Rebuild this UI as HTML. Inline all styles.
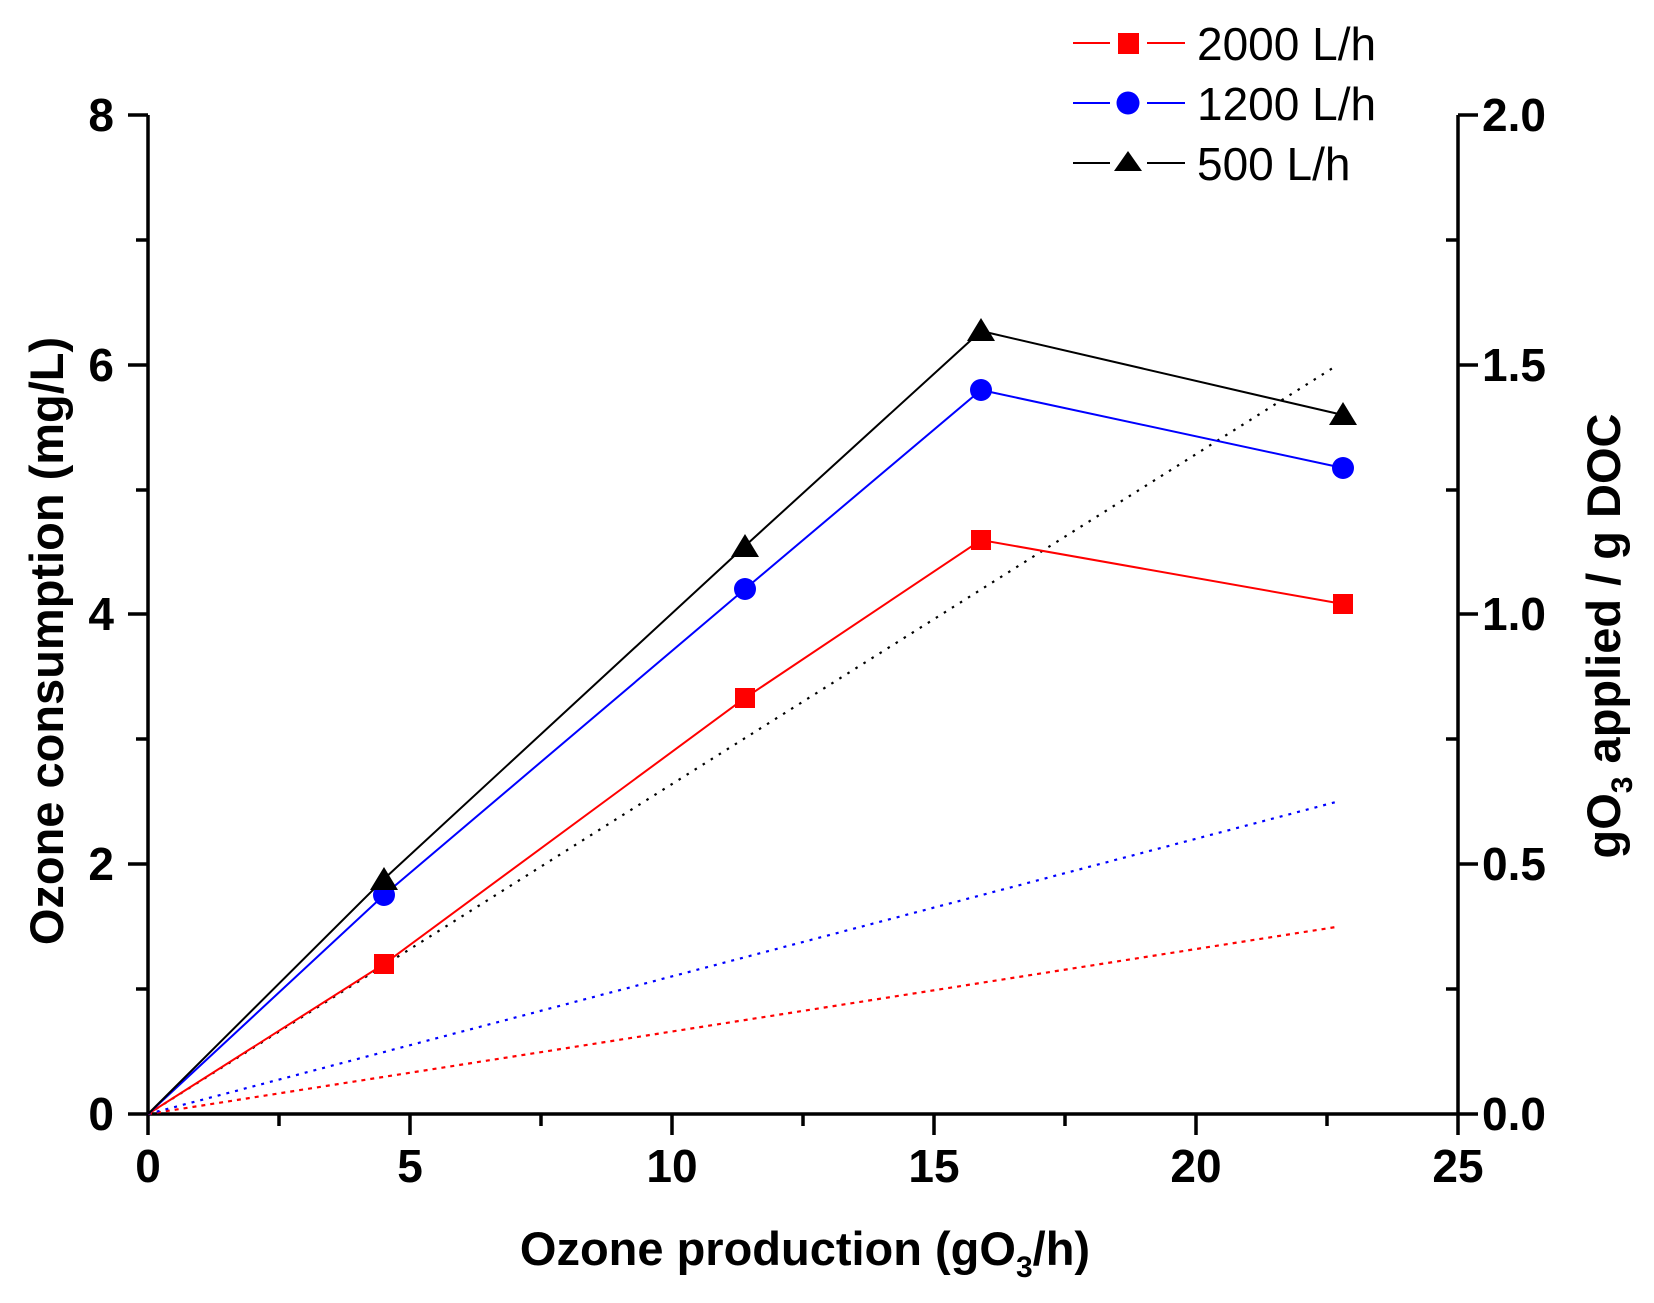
<!DOCTYPE html>
<html><head><meta charset="utf-8"><style>html,body{margin:0;padding:0;background:#fff}svg{display:block}</style></head>
<body>
<svg width="1654" height="1303" viewBox="0 0 1654 1303" xmlns="http://www.w3.org/2000/svg" font-family="'Liberation Sans', Arial, sans-serif">
<g stroke="#000" stroke-width="3.5" fill="none">
<line x1="148" y1="115" x2="148" y2="1114"/>
<line x1="1458" y1="115" x2="1458" y2="1114"/>
<line x1="128" y1="1114" x2="1458" y2="1114"/>
<line x1="128" y1="115" x2="148" y2="115"/>
<line x1="128" y1="365" x2="148" y2="365"/>
<line x1="128" y1="614" x2="148" y2="614"/>
<line x1="128" y1="864" x2="148" y2="864"/>
<line x1="136" y1="240" x2="148" y2="240"/>
<line x1="136" y1="490" x2="148" y2="490"/>
<line x1="136" y1="739" x2="148" y2="739"/>
<line x1="136" y1="989" x2="148" y2="989"/>
<line x1="1458" y1="115" x2="1478" y2="115"/>
<line x1="1458" y1="365" x2="1478" y2="365"/>
<line x1="1458" y1="614" x2="1478" y2="614"/>
<line x1="1458" y1="864" x2="1478" y2="864"/>
<line x1="1458" y1="1114" x2="1478" y2="1114"/>
<line x1="1446" y1="240" x2="1458" y2="240"/>
<line x1="1446" y1="490" x2="1458" y2="490"/>
<line x1="1446" y1="739" x2="1458" y2="739"/>
<line x1="1446" y1="989" x2="1458" y2="989"/>
<line x1="148" y1="1114" x2="148" y2="1135"/>
<line x1="410" y1="1114" x2="410" y2="1135"/>
<line x1="672" y1="1114" x2="672" y2="1135"/>
<line x1="934" y1="1114" x2="934" y2="1135"/>
<line x1="1196" y1="1114" x2="1196" y2="1135"/>
<line x1="1458" y1="1114" x2="1458" y2="1135"/>
<line x1="279" y1="1114" x2="279" y2="1126"/>
<line x1="541" y1="1114" x2="541" y2="1126"/>
<line x1="803" y1="1114" x2="803" y2="1126"/>
<line x1="1065" y1="1114" x2="1065" y2="1126"/>
<line x1="1327" y1="1114" x2="1327" y2="1126"/>
</g>
<g font-size="46" font-weight="bold" fill="#000">
<g text-anchor="end">
<text x="114" y="131">8</text>
<text x="114" y="381">6</text>
<text x="114" y="630">4</text>
<text x="114" y="880">2</text>
<text x="114" y="1130">0</text>
</g>
<g text-anchor="start">
<text x="1482" y="131">2.0</text>
<text x="1482" y="381">1.5</text>
<text x="1482" y="630">1.0</text>
<text x="1482" y="880">0.5</text>
<text x="1482" y="1130">0.0</text>
</g>
<g text-anchor="middle">
<text x="148" y="1182">0</text>
<text x="410" y="1182">5</text>
<text x="672" y="1182">10</text>
<text x="934" y="1182">15</text>
<text x="1196" y="1182">20</text>
<text x="1458" y="1182">25</text>
</g>
</g>
<g font-size="47" font-weight="bold" fill="#000">
<text x="805" y="1265" text-anchor="middle">Ozone production (gO<tspan font-size="30" dy="12">3</tspan><tspan dy="-12">/h)</tspan></text>
<text transform="translate(63,641) rotate(-90)" text-anchor="middle">Ozone consumption (mg/L)</text>
<text transform="translate(1620,636) rotate(-90)" text-anchor="middle">gO<tspan font-size="30" dy="12">3</tspan><tspan dy="-12"> applied / g DOC</tspan></text>
</g>
<g fill="none" stroke-width="2.2">
<line x1="148" y1="1114" x2="1336" y2="927" stroke="#f00" stroke-dasharray="4,5"/>
<line x1="148" y1="1114" x2="1336" y2="802" stroke="#00f" stroke-dasharray="3,6"/>
<line x1="148" y1="1114" x2="1336" y2="366" stroke="#000" stroke-dasharray="2.5,7"/>
</g>
<g fill="none" stroke-width="2">
<polyline points="148,1114 384,964 745,698 981,540 1343,604" stroke="#f00"/>
<polyline points="148,1114 384,895 745,589 981,390 1343,468" stroke="#00f"/>
<polyline points="148,1114 384,879 745,546 981,331 1343,415" stroke="#000"/>
</g>
<g fill="#f00">
<rect x="374" y="954" width="20" height="20"/>
<rect x="735" y="688" width="20" height="20"/>
<rect x="971" y="530" width="20" height="20"/>
<rect x="1333" y="594" width="20" height="20"/>
</g>
<g fill="#00f">
<circle cx="384" cy="895" r="11"/>
<circle cx="745" cy="589" r="11"/>
<circle cx="981" cy="390" r="11"/>
<circle cx="1343" cy="468" r="11"/>
</g>
<g fill="#000">
<polygon points="384,867 370,890 398,890"/>
<polygon points="745,534 731,557 759,557"/>
<polygon points="981,318 967,341 995,341"/>
<polygon points="1343,402 1329,425 1357,425"/>
</g>
<g stroke-width="2">
<line x1="1073" y1="43" x2="1110" y2="43" stroke="#f00"/><line x1="1147" y1="43" x2="1185" y2="43" stroke="#f00"/>
<line x1="1073" y1="103" x2="1110" y2="103" stroke="#00f"/><line x1="1147" y1="103" x2="1185" y2="103" stroke="#00f"/>
<line x1="1073" y1="163" x2="1110" y2="163" stroke="#000"/><line x1="1147" y1="163" x2="1185" y2="163" stroke="#000"/>
</g>
<rect x="1118" y="33" width="21" height="21" fill="#f00"/>
<circle cx="1128" cy="103" r="11.5" fill="#00f"/>
<polygon points="1128,151 1114,171 1142,171" fill="#000"/>
<g font-size="46" fill="#000">
<text x="1197" y="60">2000 L/h</text>
<text x="1197" y="120">1200 L/h</text>
<text x="1197" y="180">500 L/h</text>
</g>
</svg>
</body></html>
